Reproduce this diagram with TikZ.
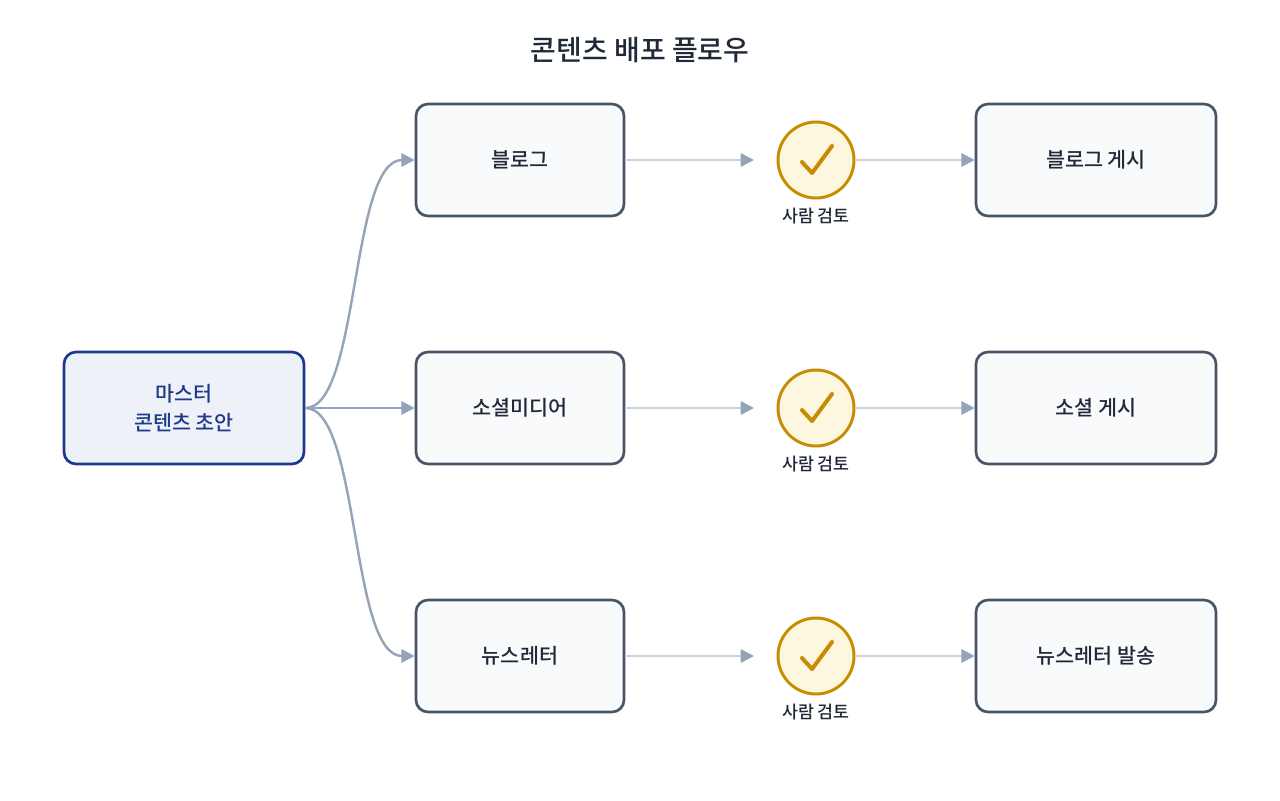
\documentclass[tikz,border=0pt]{standalone}
\usepackage{fontspec}
\setmainfont{Noto Sans CJK KR}
\newfontfamily\medium{Noto Sans CJK KR Medium}
\usetikzlibrary{arrows.meta,positioning}
\definecolor{mastered}{HTML}{1E3A8A}
\definecolor{masterfill}{HTML}{EEF2F8}
\definecolor{boxline}{HTML}{475569}
\definecolor{boxfill}{HTML}{F8FAFC}
\definecolor{linkgray}{HTML}{94A3B8}
\definecolor{linklight}{HTML}{CBD5E1}
\definecolor{gold}{HTML}{CA8A04}
\definecolor{goldfill}{HTML}{FEF7E0}
\definecolor{textdark}{HTML}{1F2937}
\tikzset{
  stage/.style={draw=boxline, line width=2pt, fill=boxfill, rounded corners=9pt,
    minimum width=156pt, minimum height=84pt, text=textdark, font=\medium\fontsize{15.5}{18}\selectfont},
  master/.style={stage, draw=mastered, fill=masterfill, minimum width=180pt,
    text=mastered, align=center, font=\medium\fontsize{15.5}{22}\selectfont},
  publish/.style={stage, minimum width=180pt},
  review/.style={circle, draw=gold, line width=2.2pt, fill=goldfill, minimum size=57pt, inner sep=0pt},
  flow/.style={draw=linkgray, line width=1.8pt, -{Triangle[length=10pt,width=10pt]}},
  handoff/.style={draw=linklight, line width=1.8pt, -{Triangle[length=10pt,width=10pt,fill=linkgray,color=linkgray]}}
}
\begin{document}
\begin{tikzpicture}[x=0.75pt,y=-0.75pt]
  \useasboundingbox[fill=white] (0,0) rectangle (1280,800);

  % Title
  \node[text=textdark, font=\medium\fontsize{21}{24}\selectfont] (title) at (640,50) {콘텐츠 배포 플로우};

  % Master draft
  \node[master] (draft) at (184,408) {마스터\\콘텐츠 초안};

  % Channels
  \foreach \name/\label/\target/\y in {blog/블로그/블로그 게시/160,
                                       social/소셜미디어/소셜 게시/408,
                                       news/뉴스레터/뉴스레터 발송/656} {
    \node[stage] (\name) at (520,\y) {\label};
    \node[review] (\name chk) at (816,\y) {};
    \draw[gold, line width=3pt, line cap=round, line join=round]
      ([shift={(-14,2)}]\name chk.center) -- ([shift={(-4,13)}]\name chk.center)
      -- ([shift={(16,-14)}]\name chk.center);
    \node[text=textdark, font=\medium\fontsize{13}{15}\selectfont, below=3pt of \name chk] {사람 검토};
    \node[publish] (\name out) at (1096,\y) {\target};
    \coordinate (\name in) at (754,\y);
    \draw[handoff] (\name) -- (\name in);
    \draw[handoff] (\name chk) -- (\name out);
  }

  % Distribution
  \draw[flow] (draft.east) .. controls (360,408) and (350,160) .. (blog.west);
  \draw[flow] (draft) -- (social);
  \draw[flow] (draft.east) .. controls (360,408) and (350,656) .. (news.west);
\end{tikzpicture}
\end{document}
